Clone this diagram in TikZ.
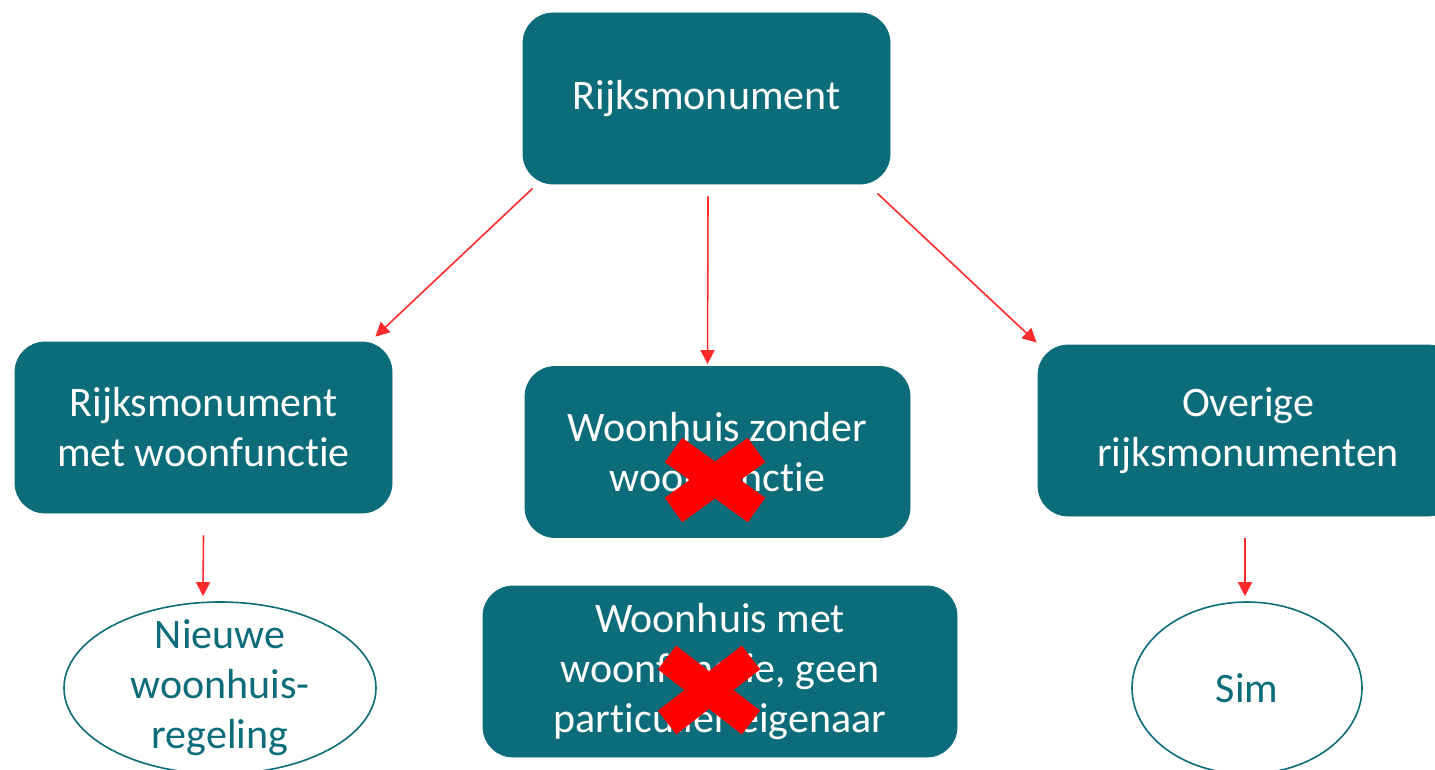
\documentclass[tikz,border=0pt]{standalone}
\usepackage{fontspec}
\setmainfont{Carlito}[Ligatures=NoCommon]
\usepackage{tikz}
\usetikzlibrary{positioning,arrows.meta,shapes.geometric}

\definecolor{teal}{HTML}{0C6C79}
\definecolor{arrowred}{HTML}{FF2A2A}
\definecolor{crossred}{HTML}{FF0000}

\tikzset{
  box/.style={rounded corners=15pt,fill=teal,draw=teal,text=white,align=center,
    font=\fontsize{21}{25}\selectfont,minimum height=85.5pt,inner sep=0pt},
  oval/.style={ellipse,draw=teal,line width=0.8pt,fill=white,text=teal,align=center,
    font=\fontsize{21}{25}\selectfont,minimum height=86pt,inner sep=0pt},
  redarrow/.style={draw=arrowred,line width=0.8pt,-{Triangle[length=7pt,width=7pt]}},
  nocross/.style={draw=crossred,line width=15pt}
}

\begin{document}
\begin{tikzpicture}[x=0.5pt,y=0.5pt,yscale=-1,xscale=1]
        \useasboundingbox (0,0) rectangle (1435,770);
        \clip (0,0) rectangle (1435,770);

        % Boxes
        \node [box,minimum width=183.5pt] (top) at (706.5,98.5) {Rijksmonument};
        \node [box,minimum width=188.5pt] (left) at (203.5,427.5) {Rijksmonument\\met woonfunctie};
        \node [box,minimum width=192.5pt] (mid) at (717.5,452) {Woonhuis zonder\\woonfunctie};
        \node [box,minimum width=210pt] (right) at (1248,430.5) {Overige\\rijksmonumenten};
        \node [box,minimum width=237pt] (bot) at (720,671.5) {Woonhuis met\\woonfunctie, geen\\particulier eigenaar};

        % Ellipses
        \node [oval,minimum width=156pt,inner ysep=-12pt] (regeling) at (220,688) {Nieuwe\\woonhuis-\\regeling};
        \node [oval,minimum width=115pt] (sim) at (1247,688) {Sim};

        % Arrows
        \draw [redarrow] ([xshift=5pt,yshift=2pt]top.south west) -- ([xshift=-8.5pt,yshift=-2.5pt]left.north east);
        \draw [redarrow] ([xshift=0.75pt,yshift=6pt]top.south) -- ([xshift=-5pt,yshift=-1pt]mid.north);
        \draw [redarrow] ([xshift=-6.5pt,yshift=4.5pt]top.south east) -- ([xshift=-0.5pt,yshift=-1pt]right.north west);
        \draw [redarrow] ([yshift=11pt]left.south) -- ([yshift=-2.5pt,xshift=-8.5pt]regeling.north);
        \draw [redarrow] ([yshift=11pt,xshift=-1.5pt]right.south) -- ([yshift=-2.5pt,xshift=-1pt]sim.north);

        % Crosses
        \draw [nocross] ([xshift=-22pt,yshift=-1pt]mid.center) -- ([xshift=19.5pt,yshift=29pt]mid.center)
                        ([xshift=-22pt,yshift=29pt]mid.center) -- ([xshift=19.5pt,yshift=-1pt]mid.center);
        \draw [nocross] ([xshift=-26.5pt,yshift=-7pt]bot.center) -- ([xshift=15.5pt,yshift=25.5pt]bot.center)
                        ([xshift=-26.5pt,yshift=25.5pt]bot.center) -- ([xshift=15.5pt,yshift=-7pt]bot.center);
\end{tikzpicture}
\end{document}
